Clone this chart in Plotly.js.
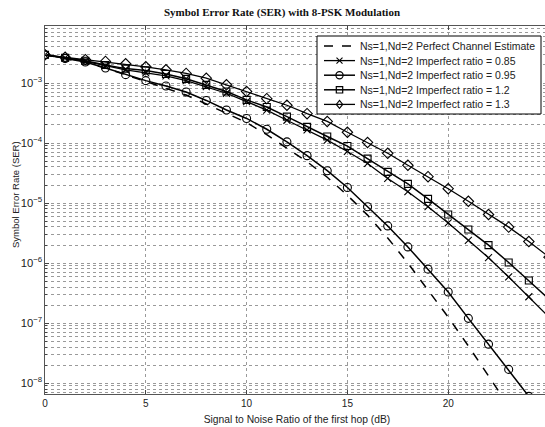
<!DOCTYPE html>
<html>
<head>
<meta charset="utf-8">
<script src="https://cdn.plot.ly/plotly-3.0.1.min.js"></script>
<style>
html,body{margin:0;padding:0;overflow:hidden;background:#fff;width:545px;height:427px;}
#chart{width:549px;height:427px;}
</style>
</head>
<body>
<div id="chart"></div>
<script>
// SNR of the first hop (dB)
const snrDb = [0,1,2,3,4,5,6,7,8,9,10,11,12,13,14,15,16,17,18,19,20,21,22,23,24,25];

// log10(SER)
const logPerfect = [-2.53,-2.59,-2.66,-2.75,-2.86,-2.97,-3.08,-3.20,-3.35,-3.50,-3.66,-3.86,-4.08,-4.31,-4.57,-4.87,-5.20,-5.58,-6.00,-6.44,-6.90,-7.38,-7.87,-8.38];
const logRatio085 = [-2.53,-2.58,-2.64,-2.71,-2.78,-2.83,-2.88,-2.96,-3.06,-3.17,-3.31,-3.45,-3.62,-3.78,-3.95,-4.14,-4.34,-4.59,-4.81,-5.06,-5.33,-5.62,-5.91,-6.23,-6.56,-6.90];
const logRatio095 = [-2.53,-2.59,-2.65,-2.75,-2.86,-2.96,-3.05,-3.15,-3.29,-3.45,-3.59,-3.77,-3.98,-4.21,-4.46,-4.74,-5.06,-5.38,-5.73,-6.10,-6.48,-6.92,-7.35,-7.77,-8.22];
const logRatio12 = [-2.53,-2.58,-2.63,-2.70,-2.76,-2.79,-2.85,-2.93,-3.03,-3.14,-3.28,-3.40,-3.56,-3.73,-3.89,-4.05,-4.26,-4.48,-4.68,-4.93,-5.19,-5.44,-5.70,-5.99,-6.29,-6.60];
const logRatio13 = [-2.53,-2.57,-2.61,-2.64,-2.68,-2.73,-2.78,-2.84,-2.92,-3.03,-3.14,-3.26,-3.37,-3.51,-3.64,-3.82,-3.99,-4.17,-4.37,-4.56,-4.76,-4.97,-5.19,-5.40,-5.64,-5.90];

const seriesNames = [
  "Ns=1,Nd=2 Perfect Channel Estimate",
  "Ns=1,Nd=2 Imperfect ratio = 0.85",
  "Ns=1,Nd=2 Imperfect ratio = 0.95",
  "Ns=1,Nd=2 Imperfect ratio = 1.2",
  "Ns=1,Nd=2 Imperfect ratio = 1.3"
];
const seriesSymbols = ['none', 'x', 'circle', 'square', 'diamond'];
const xTickVals = [0,5,10,15,20,25];

const toSer = a => a.map(v => Math.pow(10, v));
const plotSymbol = {x: 'x-thin-open', circle: 'circle-open', square: 'square-open', diamond: 'diamond-open'};
const symbolSize = {x: 7, circle: 8, square: 7, diamond: 8};

const logSeries = [logPerfect, logRatio085, logRatio095, logRatio12, logRatio13];
const lineWidths = [1.5, 1.3, 1.5, 1.5, 1.3];

const data = logSeries.map((vals, i) => {
  const sym = seriesSymbols[i];
  const t = {
    x: snrDb.slice(0, vals.length),
    y: toSer(vals),
    name: seriesNames[i],
    type: 'scatter',
    mode: sym === 'none' ? 'lines' : 'lines+markers',
    line: {color: '#000', width: lineWidths[i], dash: sym === 'none' ? 'dash' : 'solid'},
    showlegend: false
  };
  if (sym !== 'none') {
    t.marker = {symbol: plotSymbol[sym], size: symbolSize[sym], color: '#000', line: {color: '#000', width: 1.1}};
  }
  return t;
});

// ---- layout geometry (pixels) ----
const W = 549, H = 427;
const M = {l: 45, r: 0, t: 26, b: 33};
const PW = W - M.l - M.r, PH = H - M.t - M.b;
const px = x => (x - M.l) / PW;        // pixel -> paper x
const py = y => 1 - (y - M.t) / PH;    // pixel -> paper y

// custom legend (compact, like the MATLAB one)
const shapes = [];
const annotations = [];
const legBox = {x0: 317, x1: 541, y0: 36, y1: 114};
shapes.push({type: 'rect', xref: 'paper', yref: 'paper', x0: px(legBox.x0), x1: px(legBox.x1), y0: py(legBox.y1), y1: py(legBox.y0),
  line: {color: '#000', width: 1}, fillcolor: '#fff', layer: 'above'});
const rowY0 = 46, rowStep = 14.6, lineX0 = 324, lineX1 = 355, midX = 339.5;
seriesNames.forEach((name, i) => {
  const y = rowY0 + i * rowStep;
  const sym = seriesSymbols[i];
  shapes.push({type: 'line', xref: 'paper', yref: 'paper', x0: px(lineX0), x1: px(lineX1), y0: py(y), y1: py(y),
    line: {color: '#000', width: lineWidths[i], dash: sym === 'none' ? 'dash' : 'solid'}, layer: 'above'});
  const r = 3.6;
  if (sym === 'circle') {
    shapes.push({type: 'circle', xref: 'paper', yref: 'paper', x0: px(midX - r), x1: px(midX + r), y0: py(y + r), y1: py(y - r),
      line: {color: '#000', width: 1.2}, fillcolor: 'rgba(0,0,0,0)', layer: 'above'});
  } else if (sym === 'square') {
    const s = 3.2;
    shapes.push({type: 'rect', xref: 'paper', yref: 'paper', x0: px(midX - s), x1: px(midX + s), y0: py(y + s), y1: py(y - s),
      line: {color: '#000', width: 1.2}, fillcolor: 'rgba(0,0,0,0)', layer: 'above'});
  } else if (sym === 'diamond') {
    const d = 4;
    const p = `M${px(midX)},${py(y - d)} L${px(midX + d * 0.8)},${py(y)} L${px(midX)},${py(y + d)} L${px(midX - d * 0.8)},${py(y)} Z`;
    shapes.push({type: 'path', xref: 'paper', yref: 'paper', path: p, line: {color: '#000', width: 1.1}, layer: 'above'});
  } else if (sym === 'x') {
    const d = 3;
    const p = `M${px(midX - d)},${py(y - d)} L${px(midX + d)},${py(y + d)} M${px(midX - d)},${py(y + d)} L${px(midX + d)},${py(y - d)}`;
    shapes.push({type: 'path', xref: 'paper', yref: 'paper', path: p, line: {color: '#000', width: 1.1}, layer: 'above'});
  }
  annotations.push({xref: 'paper', yref: 'paper', x: px(357.5), y: py(y), xanchor: 'left', yanchor: 'middle',
    text: name, showarrow: false, font: {size: 10.5, color: '#222'}});
});

// y-axis title placed like the reference
annotations.push({xref: 'paper', yref: 'paper', x: px(15), y: py(195), xanchor: 'center', yanchor: 'middle',
  text: 'Symbol Error Rate (SER)', textangle: -90, showarrow: false, font: {size: 9.5, color: '#222'}});

const gridCol = '#9a9a9a';
const layout = {
  width: W, height: H,
  margin: M,
  paper_bgcolor: '#fff', plot_bgcolor: '#fff',
  font: {family: 'Liberation Sans, Arial, sans-serif', size: 10, color: '#222'},
  title: {
    text: 'Symbol Error Rate (SER) with 8-PSK Modulation',
    font: {family: 'Liberation Serif, DejaVu Serif, serif', size: 11, weight: 'bold', color: '#111'},
    x: 282 / W, xref: 'container', xanchor: 'center', y: 1 - 12 / H, yref: 'container', yanchor: 'middle'
  },
  xaxis: {
    range: [0, 25], tickvals: xTickVals,
    ticks: 'inside', ticklen: 4, tickcolor: '#444',
    showline: true, mirror: 'ticks', linecolor: '#555', linewidth: 1,
    showgrid: true, gridcolor: gridCol, griddash: 'dot', gridwidth: 1,
    zeroline: false,
    title: {text: 'Signal to Noise Ratio of the first hop (dB)', font: {size: 10.3, color: '#222'}, standoff: 7}
  },
  yaxis: {
    type: 'log', range: [-8.18, -2.05], dtick: 1,
    exponentformat: 'power', showexponent: 'all',
    tickfont: {size: 9, color: '#222'},
    ticks: 'inside', ticklen: 4, tickcolor: '#444',
    showline: true, mirror: 'ticks', linecolor: '#555', linewidth: 1,
    showgrid: true, gridcolor: gridCol, griddash: 'dot', gridwidth: 1,
    zeroline: false,
    minor: {dtick: 'D1', showgrid: true, gridcolor: gridCol, griddash: 'dot', gridwidth: 1, ticks: 'inside', ticklen: 2, tickcolor: '#444'}
  },
  shapes: shapes,
  annotations: annotations,
  showlegend: false
};

Plotly.newPlot('chart', data, layout, {staticPlot: true, displayModeBar: false});
</script>
</body>
</html>
